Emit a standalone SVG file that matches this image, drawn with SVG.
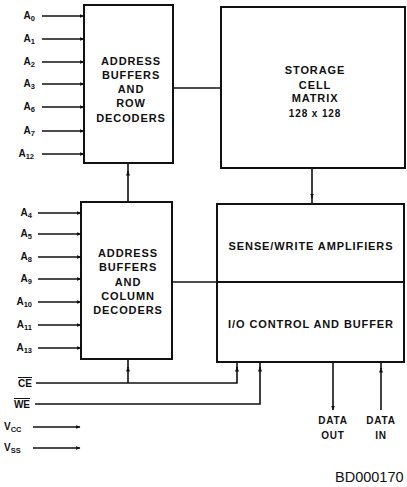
<svg xmlns="http://www.w3.org/2000/svg" width="407" height="487" viewBox="0 0 407 487">
<style>
text{font-family:"Liberation Sans",Arial,sans-serif;font-weight:bold;fill:#111}
.box{fill:#fff;stroke:#111;stroke-width:2}
.c{fill:none;stroke:#111;stroke-width:1.6}
.lbl{font-size:10px}
.bx{font-size:11px;letter-spacing:0.9px;text-anchor:middle}
.sub{font-size:7.5px}
.dl{font-size:10px;letter-spacing:0.8px;text-anchor:middle}
</style>
<defs>
<marker id="ah" viewBox="0 0 10 10" refX="9" refY="5" markerWidth="5" markerHeight="5" orient="auto" markerUnits="userSpaceOnUse">
<path d="M0,1 L10,5 L0,9 z" fill="#111"/>
</marker>
</defs>
<rect width="407" height="487" fill="#fff"/>

<g id="row-decoders">
<rect class="box" x="84" y="5" width="89" height="158"/>
<text class="bx" x="131" y="65">ADDRESS</text>
<text class="bx" x="131" y="79">BUFFERS</text>
<text class="bx" x="131" y="93">AND</text>
<text class="bx" x="131" y="107">ROW</text>
<text class="bx" x="131" y="122">DECODERS</text>
</g>

<g id="column-decoders">
<rect class="box" x="81" y="202" width="91" height="157"/>
<text class="bx" x="128" y="257">ADDRESS</text>
<text class="bx" x="128" y="271">BUFFERS</text>
<text class="bx" x="128" y="286">AND</text>
<text class="bx" x="128" y="300">COLUMN</text>
<text class="bx" x="128" y="314">DECODERS</text>
</g>

<g id="storage-matrix">
<rect class="box" x="221" y="7" width="184" height="161"/>
<text class="bx" x="315" y="74">STORAGE</text>
<text class="bx" x="315" y="89">CELL</text>
<text class="bx" x="315" y="102">MATRIX</text>
<text class="bx" x="315" y="117" style="font-size:10px">128 x 128</text>
</g>

<g id="sense-io">
<rect class="box" x="217" y="204" width="187" height="158"/>
<line x1="217" y1="282" x2="404" y2="282" stroke="#111" stroke-width="2"/>
<text class="bx" x="311" y="250">SENSE/WRITE AMPLIFIERS</text>
<text class="bx" x="311" y="328">I/O CONTROL AND BUFFER</text>
</g>

<g id="labels" class="lbl">
<text x="35" y="19" text-anchor="end">A<tspan class="sub" dy="2">0</tspan></text>
<text x="35" y="42" text-anchor="end">A<tspan class="sub" dy="2">1</tspan></text>
<text x="35" y="65" text-anchor="end">A<tspan class="sub" dy="2">2</tspan></text>
<text x="35" y="87" text-anchor="end">A<tspan class="sub" dy="2">3</tspan></text>
<text x="35" y="110" text-anchor="end">A<tspan class="sub" dy="2">6</tspan></text>
<text x="35" y="134" text-anchor="end">A<tspan class="sub" dy="2">7</tspan></text>
<text x="34" y="157" text-anchor="end">A<tspan class="sub" dy="2">12</tspan></text>
<text x="32" y="216" text-anchor="end">A<tspan class="sub" dy="2">4</tspan></text>
<text x="32" y="237" text-anchor="end">A<tspan class="sub" dy="2">5</tspan></text>
<text x="32" y="260" text-anchor="end">A<tspan class="sub" dy="2">8</tspan></text>
<text x="32" y="282" text-anchor="end">A<tspan class="sub" dy="2">9</tspan></text>
<text x="32" y="305" text-anchor="end">A<tspan class="sub" dy="2">10</tspan></text>
<text x="32" y="328" text-anchor="end">A<tspan class="sub" dy="2">11</tspan></text>
<text x="32" y="351" text-anchor="end">A<tspan class="sub" dy="2">13</tspan></text>
<text x="32" y="387" text-anchor="end" text-decoration="overline">CE</text>
<text x="30" y="408" text-anchor="end" text-decoration="overline">WE</text>
<text x="4" y="430">V<tspan class="sub" dy="2">CC</tspan></text>
<text x="4" y="451">V<tspan class="sub" dy="2">SS</tspan></text>
<text class="dl" x="333" y="424">DATA</text>
<text class="dl" x="333" y="439">OUT</text>
<text class="dl" x="381" y="424">DATA</text>
<text class="dl" x="381" y="439">IN</text>
<text x="335" y="482" style="font-size:14.5px;font-weight:normal">BD000170</text>
</g>

<g id="connectors">
<line class="c" x1="42" y1="16" x2="84" y2="16" marker-end="url(#ah)"/>
<line class="c" x1="42" y1="39" x2="84" y2="39" marker-end="url(#ah)"/>
<line class="c" x1="42" y1="62" x2="84" y2="62" marker-end="url(#ah)"/>
<line class="c" x1="42" y1="84" x2="84" y2="84" marker-end="url(#ah)"/>
<line class="c" x1="42" y1="107" x2="84" y2="107" marker-end="url(#ah)"/>
<line class="c" x1="42" y1="131" x2="84" y2="131" marker-end="url(#ah)"/>
<line class="c" x1="42" y1="154" x2="84" y2="154" marker-end="url(#ah)"/>
<line class="c" x1="38" y1="213" x2="81" y2="213" marker-end="url(#ah)"/>
<line class="c" x1="38" y1="234" x2="81" y2="234" marker-end="url(#ah)"/>
<line class="c" x1="38" y1="257" x2="81" y2="257" marker-end="url(#ah)"/>
<line class="c" x1="38" y1="279" x2="81" y2="279" marker-end="url(#ah)"/>
<line class="c" x1="38" y1="302" x2="81" y2="302" marker-end="url(#ah)"/>
<line class="c" x1="38" y1="325" x2="81" y2="325" marker-end="url(#ah)"/>
<line class="c" x1="38" y1="348" x2="81" y2="348" marker-end="url(#ah)"/>
<line class="c" x1="173" y1="88" x2="221" y2="88"/>
<line class="c" x1="172" y1="282" x2="217" y2="282"/>
<path class="c" d="M128,202 V171" marker-end="url(#ah)"/>
<path class="c" d="M128,172 V163"/>
<path class="c" d="M312,168 V198" marker-end="url(#ah)"/>
<path class="c" d="M312,197 V204"/>
<path class="c" d="M36,383 H237 V367" marker-end="url(#ah)"/>
<path class="c" d="M237,368 V362"/>
<path class="c" d="M128,383 V367" marker-end="url(#ah)"/>
<path class="c" d="M128,368 V359"/>
<path class="c" d="M35,404 H260 V367" marker-end="url(#ah)"/>
<path class="c" d="M260,368 V362"/>
<path class="c" d="M333,362 V410" marker-end="url(#ah)"/>
<path class="c" d="M381,410 V368" marker-end="url(#ah)"/>
<path class="c" d="M381,369 V362"/>
<line class="c" x1="33" y1="427" x2="80" y2="427" marker-end="url(#ah)"/>
<line class="c" x1="33" y1="448" x2="80" y2="448" marker-end="url(#ah)"/>
</g>
</svg>
